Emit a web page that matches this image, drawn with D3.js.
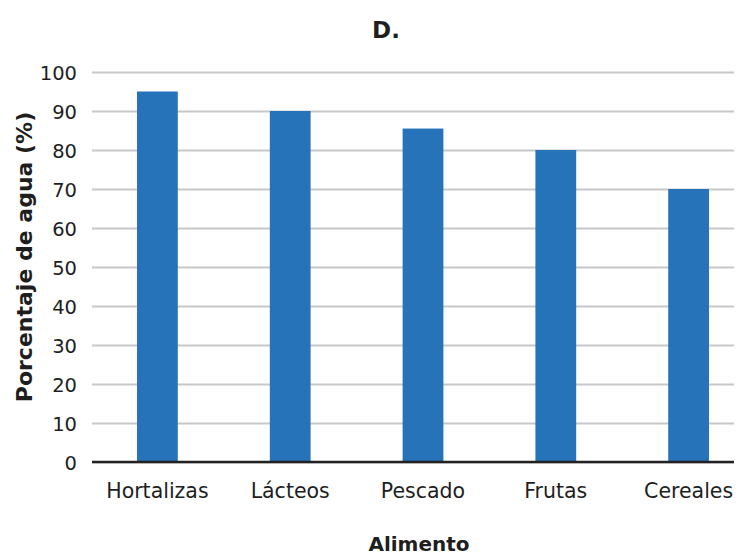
<!DOCTYPE html>
<html>
<head>
<meta charset="utf-8">
<script src="https://cdn.jsdelivr.net/npm/d3@7"></script>
<style>
  body { margin: 0; background: #fff; }
  svg { display: block; font-family: "DejaVu Sans", Verdana, sans-serif; }
</style>
</head>
<body>
<div class="forSvg"></div>
<script>
// -DATA-
const categories = ["Hortalizas", "Lácteos", "Pescado", "Frutas", "Cereales"];
const values = [95, 90, 85.5, 80, 70];
const yTicks = [0, 10, 20, 30, 40, 50, 60, 70, 80, 90, 100];

// svg size
const svg_w = 745;
const svg_h = 556;

// plot area
const plotLeft = 92;
const plotRight = 734;
const plotTop = 72;
const plotBottom = 462;

const barColor = "#2673ba";
const textColor = "#1e1e1e";

const svg = d3.select(".forSvg")
    .append("svg")
    .attr("width", svg_w)
    .attr("height", svg_h);

// scales
const x = d3.scaleBand()
    .domain(categories)
    .range([91, 755])
    .paddingInner(0.693)
    .paddingOuter(0.3465);

const y = d3.scaleLinear()
    .domain([0, 100])
    .range([plotBottom, plotTop]);

// gridlines + y tick labels
const yAxis = svg.append("g")
    .attr("transform", "translate(" + plotLeft + ",0)")
    .call(d3.axisLeft(y)
        .tickValues(yTicks)
        .tickSize(-(plotRight - plotLeft))
        .tickPadding(15));

yAxis.select(".domain").remove();
yAxis.selectAll(".tick line")
    .attr("stroke", "#c8c8c8")
    .attr("stroke-width", 2);
yAxis.selectAll(".tick text")
    .attr("font-size", "19.5px")
    .attr("fill", textColor)
    .attr("dy", "0.4em")
    .attr("font-family", "DejaVu Sans, Verdana, sans-serif");

// bars
svg.selectAll("rect.bar")
    .data(values)
    .enter()
    .append("rect")
    .attr("class", "bar")
    .attr("x", (d, i) => x(categories[i]))
    .attr("y", (d) => y(d))
    .attr("width", x.bandwidth())
    .attr("height", (d) => y(0) - y(d))
    .attr("fill", barColor);

// x axis
const xAxis = svg.append("g")
    .attr("transform", "translate(0," + plotBottom + ")")
    .call(d3.axisBottom(x).tickSize(0).tickPadding(21));

xAxis.select(".domain").remove();
xAxis.selectAll(".tick text")
    .attr("font-size", "20.5px")
    .attr("fill", textColor)
    .attr("font-family", "DejaVu Sans, Verdana, sans-serif");

// baseline
svg.append("line")
    .attr("x1", plotLeft)
    .attr("x2", plotRight)
    .attr("y1", y(0))
    .attr("y2", y(0))
    .attr("stroke", "#222")
    .attr("stroke-width", 2.5);

// -TITLES-
svg.append("text")
    .attr("x", 386)
    .attr("y", 38)
    .attr("text-anchor", "middle")
    .attr("font-size", "23px")
    .attr("font-weight", "bold")
    .attr("fill", textColor)
    .text("D.");

svg.append("text")
    .attr("transform", "translate(32,257) rotate(-90)")
    .attr("text-anchor", "middle")
    .attr("font-size", "22px")
    .attr("font-weight", "bold")
    .attr("fill", textColor)
    .text("Porcentaje de agua (%)");

svg.append("text")
    .attr("x", 419)
    .attr("y", 551)
    .attr("text-anchor", "middle")
    .attr("font-size", "20px")
    .attr("font-weight", "bold")
    .attr("fill", textColor)
    .text("Alimento");
</script>
</body>
</html>
